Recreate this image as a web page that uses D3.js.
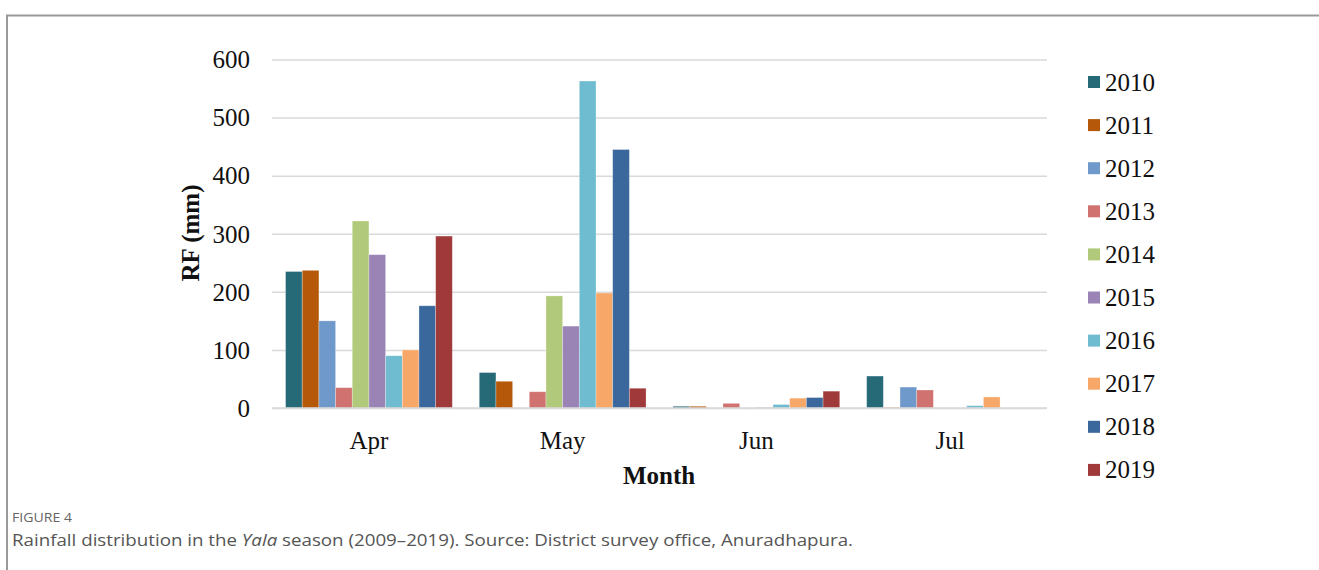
<!DOCTYPE html>
<html><head><meta charset="utf-8">
<script src="https://cdn.jsdelivr.net/npm/d3@7"></script>
<style>body{margin:0;background:#fff;}svg{display:block;}</style>
</head><body>
<script>
const months = ["Apr","May","Jun","Jul"];
const years = ["2010","2011","2012","2013","2014","2015","2016","2017","2018","2019"];
const colors = ["#266A78","#B5580A","#7099CB","#CF7270","#B1C97A","#9A84B6","#6FBCD0","#F7A869","#3A689C","#A0393A"];
// values per year, in month order Apr, May, Jun, Jul
const v2010 = [235, 61, 3, 55];
const v2011 = [237, 46, 3, 1];
const v2012 = [150, 0, 0, 36];
const v2013 = [35, 28, 8, 31];
const v2014 = [322, 193, 0, 0];
const v2015 = [264, 141, 1, 0];
const v2016 = [90, 563, 6, 4];
const v2017 = [100, 198, 17, 19];
const v2018 = [176, 445, 18, 0];
const v2019 = [296, 34, 29, 0];
const series = [v2010,v2011,v2012,v2013,v2014,v2015,v2016,v2017,v2018,v2019];
const yTicks = [0,100,200,300,400,500,600];

const W = 1319, H = 570;
const svg = d3.select("body").append("svg").attr("width", W).attr("height", H);

// frame
svg.append("path").attr("d", `M7,${H} V15.5 H${W}`).attr("fill","none").attr("stroke","#999").attr("stroke-width",2);

const plot = {l: 272, r: 1047, t: 59.5, b: 408};
const x0 = d3.scaleBand().domain(months).range([plot.l, plot.r]).paddingInner(0.139).paddingOuter(0.07);
const x1 = d3.scaleBand().domain(years).range([0, x0.bandwidth()]);
const y = d3.scaleLinear().domain([0,600]).range([plot.b, plot.t]);
const color = d3.scaleOrdinal().domain(years).range(colors);

const serif = "'Liberation Serif','Times New Roman',serif";

// grid
const yAxis = d3.axisLeft(y).tickValues(yTicks).tickSize(-(plot.r - plot.l)).tickPadding(22);
const ga = svg.append("g").attr("transform", `translate(${plot.l},0)`).call(yAxis);
ga.select(".domain").remove();
ga.selectAll(".tick line").attr("stroke","#d9d9d9").attr("stroke-width",1.5);
ga.selectAll(".tick text").attr("font-family", serif).attr("font-size", 25).attr("fill","#111").attr("dy","0.33em");

// bars
const groups = svg.append("g").selectAll("g").data(months).join("g")
  .attr("transform", d => `translate(${x0(d)},0)`);
groups.selectAll("rect").data((m, mi) => years.map((yr, yi) => ({yr, v: series[yi][mi]})))
  .join("rect")
  .attr("x", d => x1(d.yr))
  .attr("width", x1.bandwidth())
  .attr("y", d => y(d.v))
  .attr("height", d => y(0) - y(d.v))
  .attr("fill", d => color(d.yr))
  .attr("stroke", "rgba(255,255,255,0.35)").attr("stroke-width", 0.8);

// x axis
const xAxis = d3.axisBottom(x0).tickSize(0).tickPadding(23);
const gx = svg.append("g").attr("transform", `translate(0,${plot.b})`).call(xAxis);
gx.select(".domain").attr("stroke","#d9d9d9").attr("stroke-width",1.5)
  .attr("d", `M${plot.l},0H${plot.r}`);
gx.selectAll(".tick text").attr("font-family", serif).attr("font-size", 25).attr("fill","#111");

// axis titles
svg.append("text").attr("x", 659).attr("y", 484).attr("text-anchor","middle")
  .attr("font-family", serif).attr("font-weight","bold").attr("font-size", 25).attr("fill","#111").text("Month");
svg.append("text").attr("transform","translate(199,233) rotate(-90)").attr("text-anchor","middle")
  .attr("font-family", serif).attr("font-weight","bold").attr("font-size", 25).attr("fill","#111").text("RF (mm)");

// legend
const lg = svg.append("g").selectAll("g").data(years).join("g")
  .attr("transform", (d,i) => `translate(1088,${82 + i*43.1})`);
lg.append("rect").attr("x",0).attr("y",-6).attr("width",12).attr("height",12).attr("fill", d => color(d));
lg.append("text").attr("x",17).attr("y",8.5).attr("font-family", serif).attr("font-size",25).attr("fill","#111").text(d => d);

// caption
const sans = "'Open Sans','Noto Sans',sans-serif";
svg.append("text").attr("x",12).attr("y",522).attr("font-family",sans).attr("font-size",13.5)
  .attr("fill","#666").attr("textLength",60).attr("lengthAdjust","spacingAndGlyphs").text("FIGURE 4");
const cap = svg.append("text").attr("x",12).attr("y",546).attr("font-family",sans).attr("font-size",17)
  .attr("fill","#555").attr("textLength",841).attr("lengthAdjust","spacingAndGlyphs");
cap.append("tspan").text("Rainfall distribution in the ");
cap.append("tspan").attr("font-style","italic").text("Yala");
cap.append("tspan").text(" season (2009\u20132019). Source: District survey office, Anuradhapura.");
</script>
</body></html>
